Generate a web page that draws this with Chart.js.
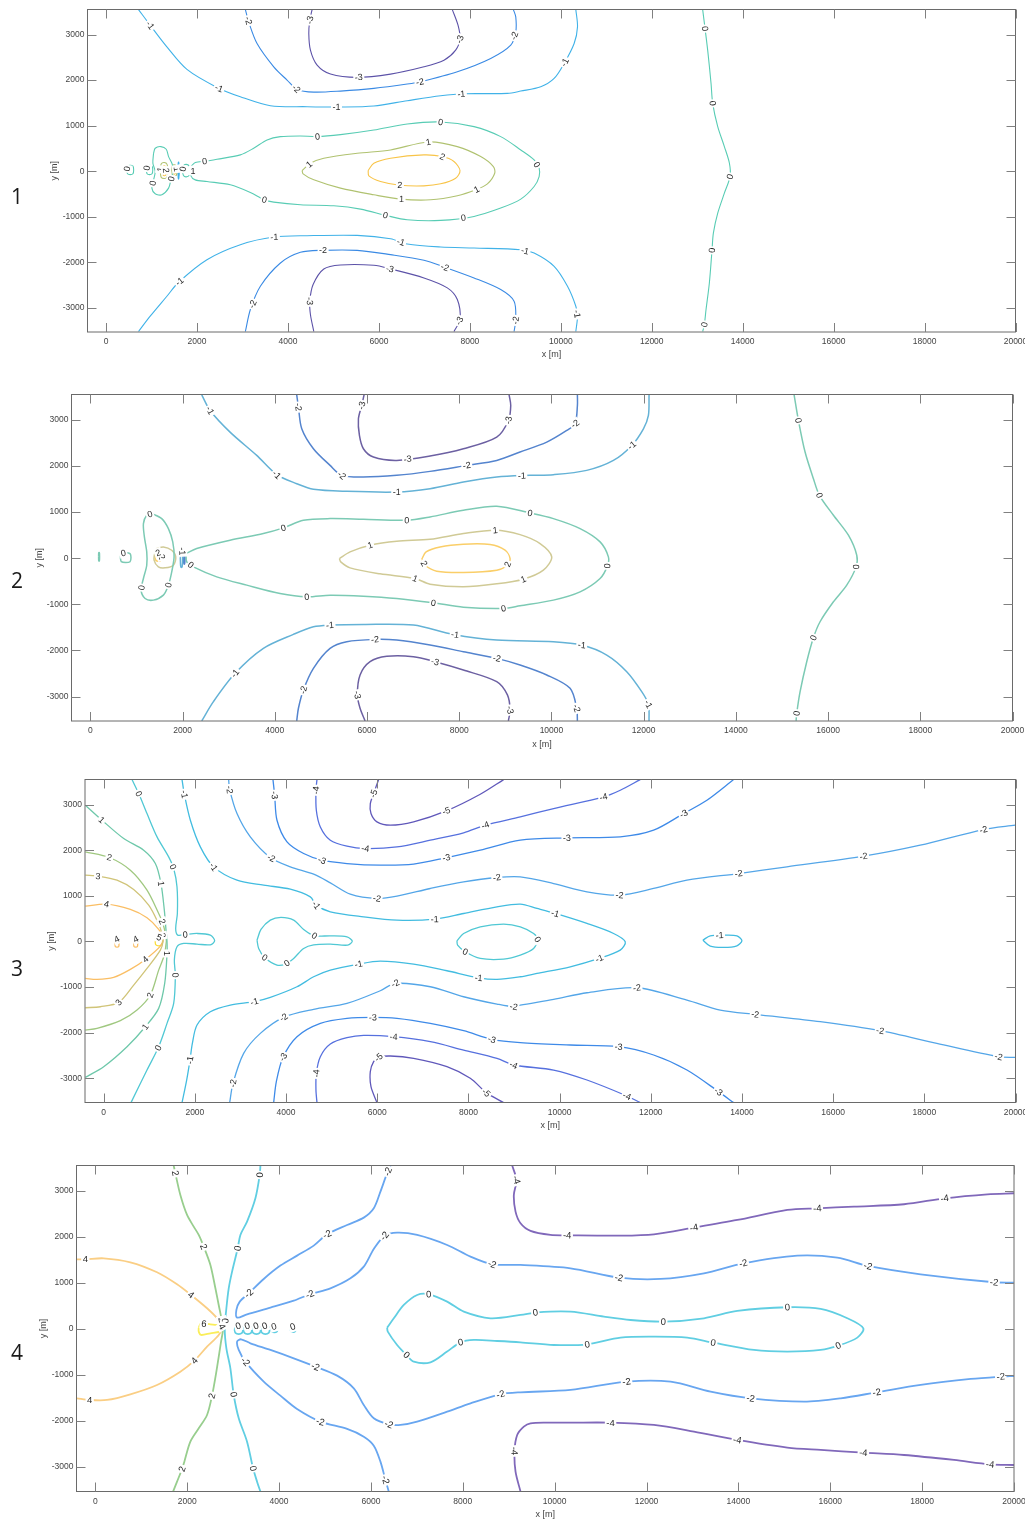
<!DOCTYPE html>
<html>
<head>
<meta charset="utf-8">
<title>Contour panels</title>
<script src="https://cdn.jsdelivr.net/npm/chart.js@4.4.1/dist/chart.umd.min.js"></script>
<style>
  html, body { margin:0; padding:0; background:#ffffff; }
  body { width:1025px; height:1521px; position:relative; overflow:hidden; }
  canvas { position:absolute; left:0; display:block; }
  .num { position:absolute; left:11px; font-family:"Open Sans","Noto Sans",sans-serif; font-size:21px; line-height:21px; color:#1a1a1a; }
</style>
</head>
<body>
<canvas id="c1" width="1025" height="365" style="top:0px"></canvas>
<canvas id="c2" width="1025" height="370" style="top:385px"></canvas>
<canvas id="c3" width="1025" height="370" style="top:770px"></canvas>
<canvas id="c4" width="1025" height="366" style="top:1155px"></canvas>
<div class="num" style="top:186px">1</div>
<div class="num" style="top:570px">2</div>
<div class="num" style="top:958px">3</div>
<div class="num" style="top:1342px">4</div>
<script>
// ---------- axes ----------
const xTicks = [0,2000,4000,6000,8000,10000,12000,14000,16000,18000,20000];
const yTicks = [-3000,-2000,-1000,0,1000,2000,3000];
const xRange = [-410, 20000];
const yRange = [-3530, 3550];

// ---------- PANEL 1 contour lines [x m, y m] ----------
const p1_m3_top = [[4530,3548],[4479,3314],[4457,3022],[4493,2657],[4640,2329],[4934,2132],[5521,2059],[6255,2132],[6990,2292],[7430,2438],[7687,2657],[7783,2913],[7739,3205],[7614,3548]];
const p1_m2_top = [[3062,3548],[3135,3278],[3319,2803],[3686,2292],[3979,2000],[4200,1796],[4567,1737],[5154,1759],[5888,1818],[6622,1913],[6916,1964],[7724,2183],[8458,2475],[8899,2767],[9009,3059],[9009,3387],[8957,3548]];
const p1_m1_top = [[712,3548],[969,3205],[1336,2730],[1777,2234],[2438,1840],[2951,1635],[3612,1438],[4420,1416],[5154,1409],[5888,1431],[6622,1548],[7357,1657],[7871,1701],[8825,1708],[9119,1759],[9559,1854],[9853,2037],[10073,2365],[10293,2803],[10367,3168],[10330,3548]];
const p1_0_main = [[1865,102],[1960,190],[2181,219],[2438,263],[2951,358],[3245,504],[3539,686],[3833,759],[4273,774],[4640,759],[5154,803],[5888,905],[6622,1037],[7357,1080],[8091,978],[8678,759],[9119,467],[9413,248],[9523,66],[9523,-117],[9413,-336],[9119,-613],[8678,-810],[8091,-993],[7357,-1080],[6622,-1066],[6182,-978],[5595,-832],[5007,-759],[4273,-737],[3686,-679],[3480,-628],[3172,-467],[2731,-299],[2217,-226],[1960,-190],[1865,-102],[1865,102]];
const p1_1 = [[4310,15],[4493,175],[4787,285],[5521,394],[6255,467],[7085,642],[7724,540],[8238,321],[8517,102],[8546,-44],[8385,-277],[8128,-409],[7724,-540],[7136,-628],[6476,-613],[5888,-518],[5154,-372],[4567,-190],[4332,-58],[4310,15]];
const p1_2 = [[5763,15],[5888,175],[6255,285],[6990,358],[7393,321],[7650,212],[7783,15],[7687,-153],[7357,-277],[6990,-321],[6461,-307],[6035,-226],[5778,-102],[5763,15]];
const p1_m1_bot = [[712,-3519],[969,-3183],[1336,-2745],[1593,-2438],[2217,-1942],[2951,-1613],[3686,-1445],[4420,-1416],[5521,-1409],[6255,-1482],[6622,-1599],[7357,-1664],[8091,-1686],[9119,-1723],[9413,-1796],[9853,-2088],[10147,-2526],[10330,-2964],[10367,-3183],[10330,-3519]];
const p1_m2_bot = [[3062,-3519],[3172,-3037],[3392,-2526],[3833,-2015],[4273,-1781],[4750,-1737],[5521,-1737],[6255,-1832],[6990,-1956],[7430,-2102],[8091,-2343],[8678,-2599],[8972,-2854],[9009,-3256],[8972,-3519]];
const p1_m3_bot = [[4567,-3519],[4493,-3146],[4479,-2854],[4552,-2489],[4787,-2146],[5154,-2059],[5888,-2066],[6255,-2146],[6990,-2343],[7504,-2562],[7724,-2818],[7783,-3256],[7650,-3519]];
const p1_0_right = [[13120,3548],[13172,3132],[13230,2657],[13304,1927],[13340,1489],[13451,978],[13597,540],[13708,175],[13722,-117],[13597,-482],[13451,-920],[13355,-1358],[13326,-1723],[13267,-2453],[13194,-3037],[13157,-3365],[13120,-3519]];
const p1_0_s1 = [[455,29],[470,110],[529,130],[590,110],[605,29],[590,-55],[529,-75],[470,-55],[455,29]];
const p1_0_s2 = [[885,29],[900,110],[954,130],[1010,110],[1025,29],[1010,-55],[954,-75],[900,-55],[885,29]];
const p1_0_lobe = [[1043,394],[1079,504],[1204,540],[1322,482],[1373,321],[1446,175],[1483,15],[1424,-190],[1373,-372],[1226,-518],[1079,-496],[1006,-372],[1043,-190],[1079,-7],[1028,175],[1043,394]];
const p1_0_s3 = [[1680,15],[1700,120],[1760,150],[1830,110],[1850,15],[1830,-90],[1760,-125],[1700,-95],[1680,15]];
const p1_1_s1 = [[1190,15],[1210,160],[1280,190],[1340,150],[1360,15],[1340,-130],[1280,-160],[1210,-130],[1190,15]];
const p1_2_s1 = [[1235,15],[1250,100],[1280,120],[1310,95],[1320,15],[1310,-80],[1280,-100],[1250,-80],[1235,15]];
const p1_1_s2 = [[1440,15],[1455,120],[1500,140],[1545,110],[1560,15],[1545,-90],[1500,-115],[1455,-90],[1440,15]];
const p1_2_s2 = [[1470,15],[1480,70],[1500,85],[1520,65],[1530,15],[1520,-50],[1500,-65],[1480,-50],[1470,15]];
const p1_m1_s = [[1580,15],[1585,180],[1593,200],[1600,180],[1606,15],[1600,-150],[1593,-175],[1585,-150],[1580,15]];
const p1_m2_s = [[1588,15],[1590,110],[1594,120],[1598,110],[1600,15],[1598,-80],[1594,-95],[1590,-80],[1588,15]];
const p1Lines = [[-3,p1_m3_top],[-3,p1_m3_bot],[-2,p1_m2_top],[-2,p1_m2_bot],[-1,p1_m1_top],[-1,p1_m1_bot],[0,p1_0_main],[0,p1_0_right],[0,p1_0_lobe],[0,p1_0_s1],[0,p1_0_s2],[0,p1_0_s3],[1,p1_1],[1,p1_1_s1],[1,p1_1_s2],[2,p1_2],[2,p1_2_s1],[2,p1_2_s2],[-1,p1_m1_s],[-2,p1_m2_s]];
const p1Labels = [
  [-1,969,3205],[-1,2489,1832],[-1,5066,1416],[-1,7812,1701],[-1,10095,2387],
  [-2,3113,3300],[-2,4170,1796],[-2,6901,1964],[-2,9045,2949],
  [-3,4508,3314],[-3,5558,2051],[-3,7797,2891],
  [0,2166,219],[0,4647,759],[0,7357,1073],[0,9500,161],[0,7856,-1022],[0,6145,-964],[0,3480,-628],
  [1,4457,161],[1,7085,650],[1,8150,-402],[1,6498,-613],
  [2,7393,307],[2,6461,-307],
  [-1,1615,-2424],[-1,3700,-1431],[-1,6476,-1577],[-1,9207,-1767],[-1,10367,-3132],
  [-2,3245,-2927],[-2,4772,-1737],[-2,7452,-2102],[-2,9016,-3278],
  [-3,4479,-2854],[-3,6241,-2146],[-3,7738,-3270],
  [0,13172,3132],[0,13333,1489],[0,13715,-117],[0,13326,-1737],[0,13150,-3365],
  [0,514,44],[0,932,66],[0,1028,-263],[0,1468,-175],
  [1,1160,44],[2,1300,15],[1,1520,44],[0,1700,44],[1,1910,15]
];

// ---------- PANEL 2 ----------
const p2_m1_top = [[2415,3543],[2596,3203],[3029,2734],[3608,2229],[4042,1811],[4475,1616],[4837,1494],[5560,1450],[6644,1436],[7367,1508],[8090,1652],[8813,1760],[9536,1797],[10042,1811],[10765,1905],[11344,2121],[11742,2446],[11995,2807],[12103,3095],[12117,3543]];
const p2_m2_top = [[4475,3543],[4512,3276],[4584,2807],[4837,2374],[5198,2013],[5451,1797],[5921,1760],[6644,1797],[7367,1883],[8163,2013],[8813,2121],[9319,2302],[9898,2518],[10332,2771],[10512,2915],[10563,3312],[10563,3543]];
const p2_m3_top = [[5936,3543],[5885,3312],[5813,3023],[5835,2662],[5921,2374],[6138,2193],[6644,2121],[7367,2215],[8090,2374],[8813,2626],[9066,2987],[9117,3312],[9081,3543]];
const p2_0_main = [[2075,101],[2306,209],[3029,390],[3752,534],[4186,657],[4620,823],[5198,859],[5921,844],[6861,823],[7367,895],[8090,1039],[8813,1126],[9536,981],[10042,859],[10621,642],[11055,354],[11235,29],[11214,-166],[11055,-440],[10621,-729],[10042,-909],[9319,-1032],[8958,-1089],[8090,-1061],[7440,-967],[6644,-873],[5921,-823],[5198,-801],[4692,-837],[4114,-765],[3391,-584],[2740,-404],[2234,-188],[2090,-79],[2075,101]];
const p2_1 = [[5401,-7],[5632,137],[6066,281],[6644,368],[7367,411],[8090,534],[8777,606],[9319,512],[9753,317],[10006,29],[9825,-260],[9392,-455],[8813,-556],[8090,-620],[7367,-563],[7042,-440],[6283,-339],[5632,-209],[5430,-79],[5401,-7]];
const p2_2 = [[7187,-22],[7281,137],[7584,245],[8090,303],[8669,296],[8994,173],[9103,-7],[9045,-152],[8813,-260],[8090,-310],[7512,-281],[7259,-152],[7187,-22]];
const p2_m1_bot = [[2415,-3528],[2668,-3110],[3138,-2496],[3752,-1955],[4403,-1652],[4837,-1486],[5198,-1450],[5921,-1436],[7006,-1450],[7873,-1652],[8813,-1775],[10042,-1811],[10657,-1883],[11199,-2100],[11633,-2460],[11958,-2893],[12103,-3167],[12117,-3528]];
const p2_m2_bot = [[4475,-3528],[4512,-3254],[4620,-2857],[4837,-2388],[5198,-1955],[5560,-1811],[6174,-1760],[6644,-1775],[7367,-1883],[8090,-2027],[8813,-2172],[9319,-2316],[9898,-2532],[10404,-2821],[10548,-3254],[10563,-3528]];
const p2_m3_bot = [[5958,-3528],[5849,-3254],[5791,-2965],[5849,-2532],[6066,-2244],[6428,-2128],[7006,-2136],[7476,-2244],[8090,-2424],[8813,-2677],[9045,-2965],[9103,-3290],[9066,-3528]];
const p2_0_right = [[15263,3543],[15357,2987],[15501,2302],[15682,1724],[15812,1364],[16116,931],[16441,498],[16622,65],[16607,-188],[16405,-584],[16116,-945],[15826,-1378],[15682,-1724],[15537,-2244],[15393,-2893],[15320,-3362],[15306,-3528]];
const p2_0_lobe = [[1330,967],[1547,859],[1692,642],[1786,354],[1815,29],[1764,-296],[1692,-584],[1583,-801],[1366,-909],[1186,-873],[1099,-693],[1150,-440],[1222,-152],[1222,137],[1171,462],[1150,750],[1222,931],[1330,967]];
const p2_0_s1 = [[650,14],[670,100],[766,120],[860,100],[880,14],[860,-75],[766,-95],[670,-75],[650,14]];
const p2_0_s2 = [[178,29],[180,110],[188,125],[196,110],[198,29],[196,-50],[188,-65],[180,-50],[178,29]];
const p2_1_s = [[1439,209],[1583,245],[1764,173],[1851,29],[1800,-152],[1620,-209],[1475,-188],[1381,-43],[1403,137],[1439,209]];
const p2_2_s = [[1400,29],[1420,100],[1475,120],[1530,100],[1550,29],[1530,-45],[1475,-65],[1420,-45],[1400,29]];
const p2_m1_s = [[1950,7],[1958,180],[1975,215],[1992,180],[2000,7],[1992,-170],[1975,-200],[1958,-170],[1950,7]];
const p2_m2_s = [[2020,7],[2026,120],[2036,140],[2046,120],[2052,7],[2046,-110],[2036,-130],[2026,-110],[2020,7]];
const p2Lines = [[-3,p2_m3_top],[-3,p2_m3_bot],[-2,p2_m2_top],[-2,p2_m2_bot],[-1,p2_m1_top],[-1,p2_m1_bot],[0,p2_0_main],[0,p2_0_right],[0,p2_0_lobe],[0,p2_0_s1],[0,p2_0_s2],[1,p2_1],[1,p2_1_s],[2,p2_2],[2,p2_2_s],[-1,p2_m1_s],[-2,p2_m2_s]];
const p2Labels = [
  [-1,2596,3203],[-1,4042,1811],[-1,6644,1436],[-1,9356,1797],[-1,11742,2446],
  [-2,4512,3276],[-2,5451,1797],[-2,8163,2013],[-2,10512,2915],
  [-3,5885,3312],[-3,6883,2121],[-3,9103,2987],
  [0,4186,657],[0,6861,823],[0,9536,981],[0,11214,-166],[0,8958,-1089],[0,7440,-967],[0,4692,-837],[0,2176,-152],
  [1,6066,281],[1,8777,606],[1,9392,-455],[1,7042,-440],
  [2,7237,-115],[2,9045,-130],
  [-1,3138,-2496],[-1,5198,-1465],[-1,7910,-1667],[-1,10657,-1883],[-1,12103,-3167],
  [-2,4620,-2857],[-2,6174,-1760],[-2,8813,-2172],[-2,10548,-3254],
  [-3,5791,-2965],[-3,7476,-2244],[-3,9103,-3290],
  [0,15357,2987],[0,15812,1364],[0,16607,-188],[0,15682,-1724],[0,15320,-3362],
  [0,1309,895],[0,1135,-642],[0,1692,-584],[0,716,101],
  [2,1764,14],[2,1475,101],[-1,1975,150]
];

// ---------- PANEL 3 ----------
const p3_0_left = [[621,3548],[768,3241],[950,2803],[1170,2292],[1425,1854],[1535,1599],[1608,1197],[1616,613],[1579,285],[1623,139],[1791,153],[2047,175],[2339,139],[2434,15],[2339,-73],[2047,-58],[1754,-44],[1608,-117],[1550,-409],[1572,-737],[1535,-1358],[1389,-1796],[1206,-2307],[950,-2818],[599,-3533]];
const p3_1 = [[-402,2986],[-37,2657],[439,2256],[877,2000],[1133,1708],[1257,1270],[1330,686],[1367,248],[1389,0],[1389,-277],[1338,-920],[1206,-1467],[914,-1869],[512,-2307],[0,-2745],[-402,-2978]];
const p3_2 = [[-402,1964],[124,1840],[585,1562],[950,1124],[1206,613],[1294,409],[1352,175],[1374,0],[1316,-336],[1206,-628],[1023,-1175],[731,-1504],[366,-1737],[-146,-1905],[-402,-1942]];
const p3_3 = [[-402,1453],[-110,1431],[292,1343],[658,1139],[987,796],[1184,431],[1279,175],[1301,0],[1243,-190],[950,-591],[658,-956],[329,-1336],[-73,-1431],[-402,-1453]];
const p3_4 = [[-402,774],[58,818],[585,701],[950,518],[1206,263],[1301,66],[1243,-102],[914,-394],[585,-613],[219,-788],[-146,-832],[-402,-810]];
const p3_m1 = [[1718,3548],[1769,3227],[1901,2657],[2120,2073],[2412,1635],[2924,1343],[3509,1234],[4094,1146],[4532,978],[4664,796],[4971,650],[5702,540],[6433,467],[7259,489],[7895,613],[8626,759],[9138,818],[9503,723],[9905,613],[10600,394],[11184,175],[11440,-7],[11330,-190],[10870,-372],[10234,-555],[9503,-701],[9138,-774],[8626,-832],[8224,-796],[7529,-642],[6798,-496],[6067,-431],[5592,-496],[4971,-628],[4605,-774],[4240,-993],[3655,-1226],[3304,-1321],[2778,-1394],[2339,-1540],[2047,-1832],[1945,-2234],[1893,-2599],[1820,-3037],[1718,-3533]];
const p3_m1_loop = [[13143,29],[13304,124],[13597,139],[13889,124],[13999,15],[13889,-95],[13597,-131],[13304,-102],[13143,29]];
const p3_0_loop1 = [[3363,29],[3450,263],[3655,467],[3889,526],[4167,467],[4386,263],[4620,124],[4971,124],[5336,102],[5453,7],[5351,-80],[4971,-58],[4605,-73],[4386,-153],[4167,-372],[3984,-496],[3801,-518],[3531,-350],[3399,-153],[3363,29]];
const p3_0_loop2 = [[7749,15],[7895,175],[8260,321],[8772,380],[9138,321],[9430,175],[9518,44],[9430,-153],[9138,-299],[8772,-387],[8260,-372],[7931,-226],[7763,-80],[7749,15]];
const p3_m2_top = [[2741,3548],[2763,3329],[2924,2803],[3216,2292],[3655,1840],[4094,1635],[4605,1475],[4971,1285],[5409,1037],[5994,942],[6433,993],[7164,1161],[7895,1307],[8626,1402],[9138,1416],[9869,1270],[10600,1088],[11316,1015],[12062,1161],[12793,1343],[13926,1489],[14986,1635],[16667,1869],[17910,2110],[19298,2453],[19993,2548]];
const p3_m2_bot = [[2763,-3533],[2836,-3110],[3070,-2453],[3436,-2015],[3947,-1664],[4605,-1489],[5336,-1358],[6067,-1080],[6396,-920],[7164,-993],[7895,-1212],[8626,-1372],[8991,-1431],[9138,-1394],[9869,-1270],[10600,-1124],[11696,-1015],[12793,-1285],[13524,-1504],[14291,-1599],[15717,-1759],[17032,-1956],[18275,-2234],[19627,-2526],[19993,-2540]];
const p3_m3_top = [[3713,3548],[3750,3205],[3801,2657],[4021,2183],[4386,1927],[4788,1781],[5336,1708],[6067,1672],[6798,1694],[7529,1840],[8260,2000],[9138,2219],[10161,2270],[11331,2292],[12062,2438],[12719,2803],[13231,3095],[13816,3548]];
const p3_m3_bot = [[3728,-3533],[3787,-3073],[3933,-2540],[4240,-2088],[4752,-1796],[5336,-1686],[5906,-1664],[6433,-1686],[7164,-1796],[7895,-1956],[8516,-2146],[9138,-2219],[10234,-2270],[11294,-2307],[12062,-2489],[12793,-2818],[13487,-3292],[13816,-3533]];
const p3_m4_top = [[4678,3548],[4656,3314],[4664,2876],[4752,2511],[4971,2219],[5336,2088],[5738,2037],[6433,2073],[7164,2219],[7895,2380],[8370,2548],[9138,2730],[9869,2913],[10965,3168],[11331,3314],[11769,3548]];
const p3_m4_bot = [[4678,-3533],[4656,-3256],[4664,-2891],[4752,-2526],[4971,-2248],[5336,-2110],[5702,-2059],[6360,-2088],[7164,-2197],[7895,-2380],[8626,-2562],[8991,-2708],[9869,-2818],[10600,-3037],[11477,-3387],[11769,-3533]];
const p3_m5_top = [[6031,3548],[5921,3241],[5848,3022],[5863,2803],[5994,2621],[6287,2548],[6798,2621],[7515,2862],[8260,3227],[8772,3548]];
const p3_m5_bot = [[5994,-3533],[5863,-3183],[5848,-2854],[5921,-2635],[6031,-2540],[6287,-2511],[6798,-2562],[7529,-2745],[8041,-3000],[8392,-3314],[8772,-3533]];
const p3_4_s1 = [[250,-44],[255,30],[292,50],[330,30],[335,-44],[330,-110],[292,-125],[255,-110],[250,-44]];
const p3_4_s2 = [[660,-44],[665,30],[702,50],[740,30],[745,-44],[740,-110],[702,-125],[665,-110],[660,-44]];
const p3_5_s = [[1130,0],[1140,70],[1206,95],[1270,70],[1285,0],[1270,-70],[1206,-95],[1140,-70],[1130,0]];
const p3Lines = [[-5,p3_m5_top],[-5,p3_m5_bot],[-4,p3_m4_top],[-4,p3_m4_bot],[-3,p3_m3_top],[-3,p3_m3_bot],[-2,p3_m2_top],[-2,p3_m2_bot],[-1,p3_m1],[-1,p3_m1_loop],[0,p3_0_left],[0,p3_0_loop1],[0,p3_0_loop2],[1,p3_1],[2,p3_2],[3,p3_3],[4,p3_4],[4,p3_4_s1],[4,p3_4_s2],[5,p3_5_s]];
const p3Labels = [
  [0,768,3241],[0,1520,1635],[0,1791,153],[0,1572,-737],[0,1170,-2321],
  [1,-51,2657],[1,1265,1270],[1,1389,-263],[1,914,-1869],
  [2,124,1840],[2,1279,431],[2,1023,-1175],
  [3,-124,1431],[3,329,-1336],[3,1316,139],
  [4,58,796],[4,914,-394],[4,278,66],[4,694,66],
  [5,1206,66],
  [-1,1769,3227],[-1,2412,1635],[-1,4664,796],[-1,7259,489],[-1,9905,613],[-1,10870,-372],[-1,8224,-796],[-1,5592,-504],[-1,3304,-1321],[-1,1893,-2599],
  [-1,13509,117],
  [0,4620,102],[0,3531,-350],[0,4021,-482],
  [0,9518,44],[0,7931,-226],
  [-2,2763,3329],[-2,3670,1818],[-2,5994,942],[-2,8626,1380],[-2,11316,1015],[-2,13926,1489],[-2,16667,1869],[-2,19298,2453],
  [-2,2836,-3110],[-2,3947,-1664],[-2,6396,-920],[-2,8991,-1431],[-2,11696,-1015],[-2,14291,-1599],[-2,17032,-1956],[-2,19627,-2526],
  [-3,3750,3205],[-3,4788,1781],[-3,7515,1840],[-3,10161,2270],[-3,12719,2803],
  [-3,3947,-2540],[-3,5906,-1664],[-3,8516,-2146],[-3,11294,-2307],[-3,13487,-3292],
  [-4,4656,3314],[-4,5738,2037],[-4,8370,2548],[-4,10965,3168],
  [-4,4664,-2891],[-4,6360,-2088],[-4,8991,-2708],[-4,11477,-3387],
  [-5,5921,3241],[-5,7515,2862],
  [-5,6031,-2540],[-5,8392,-3314]
];

// ---------- PANEL 4 ----------
const p4_2 = [[1706,3548],[1742,3381],[1851,2910],[1997,2476],[2142,2223],[2251,2042],[2360,1788],[2505,1390],[2614,883],[2686,521],[2759,159],[2781,0],[2737,-275],[2635,-927],[2541,-1448],[2432,-1868],[2251,-2158],[2069,-2447],[1938,-2882],[1888,-3041],[1779,-3316],[1692,-3533]];
const p4_0_left = [[3594,3548],[3579,3345],[3485,2838],[3303,2331],[3158,2042],[3100,1752],[2977,1245],[2904,883],[2853,449],[2817,0],[2853,-420],[2940,-854],[3013,-1434],[3122,-1940],[3303,-2447],[3434,-3026],[3521,-3316],[3594,-3533]];
const p4_4 = [[-399,1513],[-218,1513],[182,1535],[762,1448],[1343,1231],[1779,970],[2084,738],[2432,449],[2650,232],[2759,51],[2686,-130],[2432,-384],[2156,-688],[1851,-927],[1343,-1216],[762,-1419],[254,-1542],[-123,-1542],[-399,-1506]];
const p4_6 = [[2251,29],[2301,123],[2505,101],[2708,72],[2781,14],[2708,-58],[2505,-94],[2301,-130],[2251,-58],[2251,29]];
const p4_m2_top = [[6425,3548],[6338,3345],[6207,2983],[6062,2621],[5844,2418],[5481,2259],[5046,2056],[4755,1810],[4392,1593],[4029,1376],[3666,1086],[3340,775],[3144,594],[3071,413],[3086,246],[3303,319],[3812,463],[4320,615],[4668,753],[5118,883],[5554,1100],[5844,1354],[6062,1738],[6294,2020],[6570,2092],[7006,2042],[7659,1824],[8168,1571],[8639,1405],[9256,1390],[10346,1318],[11398,1115],[12306,1086],[13250,1209],[14106,1426],[15283,1593],[16154,1549],[16821,1368],[17968,1187],[19566,1014],[19996,1006]];
const p4_m2_bot = [[6389,-3533],[6316,-3280],[6207,-2882],[6062,-2534],[5844,-2339],[5481,-2172],[4901,-2013],[4392,-1738],[4029,-1448],[3666,-1144],[3267,-710],[3122,-456],[3086,-275],[3173,-224],[3376,-311],[3812,-456],[4320,-637],[4792,-818],[5264,-1014],[5627,-1289],[5844,-1651],[6062,-1940],[6389,-2071],[6643,-2085],[7006,-2013],[7659,-1796],[8168,-1615],[8821,-1419],[9256,-1376],[10346,-1325],[11565,-1144],[12524,-1144],[13395,-1361],[14266,-1506],[15428,-1578],[16226,-1506],[17010,-1376],[17968,-1216],[19058,-1086],[19711,-1035],[20001,-1021]];
const p4_0_loop = [[6353,29],[6498,232],[6716,521],[7006,738],[7260,753],[7659,594],[8022,376],[8603,232],[9256,304],[9620,362],[10346,376],[11072,268],[11652,195],[12364,159],[13250,232],[13976,391],[15065,471],[15791,434],[16372,232],[16720,14],[16589,-188],[16175,-362],[15791,-456],[15065,-492],[14339,-456],[13453,-297],[12887,-188],[12161,-167],[11434,-188],[10709,-333],[9983,-348],[9256,-290],[8748,-261],[8240,-239],[7950,-290],[7659,-492],[7296,-724],[6933,-710],[6774,-565],[6570,-348],[6367,-58],[6353,29]];
const p4_m4_top = [[9075,3548],[9169,3236],[9111,2910],[9148,2548],[9257,2295],[9474,2129],[9910,2042],[10273,2034],[11435,2027],[12161,2056],[13032,2201],[13976,2367],[15065,2585],[15718,2621],[16517,2657],[17606,2708],[18491,2838],[19421,2925],[20001,2947]];
const p4_m4_bot = [[9257,-3533],[9148,-3099],[9126,-2650],[9184,-2302],[9329,-2121],[9474,-2049],[9837,-2034],[10346,-2034],[11217,-2034],[12161,-2085],[13032,-2230],[13976,-2411],[15065,-2577],[15791,-2628],[16720,-2686],[17606,-2737],[18695,-2845],[19479,-2939],[20001,-2954]];
const p4_0_s1 = [[3032,-20],[3050,45],[3122,70],[3194,45],[3212,-20],[3194,-85],[3122,-110],[3050,-85],[3032,-20]];
const p4_0_s2 = [[3228,-20],[3246,45],[3318,70],[3390,45],[3408,-20],[3390,-85],[3318,-110],[3246,-85],[3228,-20]];
const p4_0_s3 = [[3417,-20],[3435,45],[3507,70],[3579,45],[3597,-20],[3579,-85],[3507,-110],[3435,-85],[3417,-20]];
const p4_0_s4 = [[3613,-20],[3631,45],[3703,70],[3775,45],[3793,-20],[3775,-85],[3703,-110],[3631,-85],[3613,-20]];
const p4_0_s5 = [[3834,-10],[3847,40],[3899,55],[3951,40],[3964,-10],[3951,-60],[3899,-75],[3847,-60],[3834,-10]];
const p4_0_s6 = [[4250,-10],[4261,35],[4305,50],[4349,35],[4360,-10],[4349,-55],[4305,-70],[4261,-55],[4250,-10]];
const p4Lines = [[-4,p4_m4_top],[-4,p4_m4_bot],[-2,p4_m2_top],[-2,p4_m2_bot],[0,p4_0_left],[0,p4_0_loop],[0,p4_0_s1],[0,p4_0_s2],[0,p4_0_s3],[0,p4_0_s4],[0,p4_0_s5],[0,p4_0_s6],[2,p4_2],[4,p4_4],[6,p4_6]];
const p4Labels = [
  [2,1742,3381],[2,2360,1788],[2,2526,-1448],[2,1888,-3041],[2,2686,181],
  [0,3579,3345],[0,3100,1752],[0,3027,-1419],[0,3434,-3026],[0,2853,174],
  [4,-218,1513],[4,2084,738],[4,2156,-688],[4,-123,-1542],[4,2795,51],
  [6,2360,87],
  [-2,6374,3417],[-2,5046,2056],[-2,3340,775],[-2,4668,753],[-2,6294,2020],[-2,8639,1405],[-2,11398,1115],[-2,14106,1426],[-2,16821,1368],[-2,19566,1014],
  [-2,6316,-3280],[-2,4901,-2013],[-2,3267,-710],[-2,4792,-818],[-2,6389,-2071],[-2,8821,-1419],[-2,11565,-1144],[-2,14266,-1506],[-2,17010,-1376],[-2,19711,-1035],
  [0,7260,753],[0,7950,-290],[0,6774,-565],[0,9583,319],[0,12364,159],[0,15065,471],[0,16175,-362],[0,13453,-297],[0,10709,-333],
  [-4,9169,3236],[-4,10273,2034],[-4,13032,2201],[-4,15718,2621],[-4,18491,2838],
  [-4,9126,-2650],[-4,11217,-2034],[-4,13976,-2411],[-4,16720,-2686],[-4,19479,-2939],
  [0,3122,36],[0,3318,36],[0,3507,36],[0,3703,29],[0,3899,14],[0,4305,29]
];

// ---------- styles ----------
const p1Colors = {'-3':'rgb(92,82,168)','-2':'rgb(58,138,228)','-1':'rgb(64,178,232)','0':'rgb(88,204,180)','1':'rgb(176,194,112)','2':'rgb(248,196,72)'};
const p2Colors = {'-3':'rgb(108,96,162)','-2':'rgb(84,132,206)','-1':'rgb(100,178,214)','0':'rgb(124,202,180)','1':'rgb(208,202,150)','2':'rgb(250,206,104)'};
const p3Colors = {'-5':'rgb(96,88,186)','-4':'rgb(86,112,222)','-3':'rgb(62,138,232)','-2':'rgb(84,166,232)','-1':'rgb(66,188,224)','0':'rgb(80,200,212)','1':'rgb(110,200,170)','2':'rgb(160,200,128)','3':'rgb(208,196,120)','4':'rgb(250,190,100)','5':'rgb(250,222,60)'};
const p4Colors = {'-4':'rgb(128,104,186)','-2':'rgb(104,166,240)','0':'rgb(96,206,226)','2':'rgb(152,206,142)','4':'rgb(250,206,132)','6':'rgb(250,238,90)'};

const FONT = '"Liberation Sans", Arial, Helvetica, sans-serif';

function segNearest(px, py, ax, ay, bx, by) {
  const dx = bx - ax, dy = by - ay, L = dx*dx + dy*dy;
  let t = L ? ((px-ax)*dx + (py-ay)*dy) / L : 0;
  t = Math.max(0, Math.min(1, t));
  const qx = ax + t*dx, qy = ay + t*dy;
  return [Math.hypot(px-qx, py-qy), qx, qy];
}

function labelPlugin(labels, fontSize) {
  return {
    id: 'clabels',
    afterDatasetsDraw(chart) {
      const ctx = chart.ctx, xs = chart.scales.x, ys = chart.scales.y;
      ctx.save();
      ctx.font = fontSize + 'px ' + FONT;
      ctx.textAlign = 'center';
      ctx.textBaseline = 'middle';
      for (const [lev, dx, dy] of labels) {
        let px = xs.getPixelForValue(dx), py = ys.getPixelForValue(dy);
        let best = 1e9, ang = 0, bx = px, by = py;
        chart.data.datasets.forEach((ds, i) => {
          if (ds.level !== lev) return;
          const pts = chart.getDatasetMeta(i).data;
          for (let k = 0; k < pts.length - 1; k++) {
            const r = segNearest(px, py, pts[k].x, pts[k].y, pts[k+1].x, pts[k+1].y);
            if (r[0] < best) { best = r[0]; bx = r[1]; by = r[2]; ang = Math.atan2(pts[k+1].y - pts[k].y, pts[k+1].x - pts[k].x); }
          }
        });
        if (best < 12) { px = bx; py = by; } else { ang = 0; }
        if (ang > Math.PI/2) ang -= Math.PI;
        if (ang < -Math.PI/2) ang += Math.PI;
        const t = String(lev);
        const w = ctx.measureText(t).width + 3;
        ctx.save();
        ctx.translate(px, py);
        ctx.rotate(ang);
        ctx.fillStyle = '#ffffff';
        ctx.fillRect(-w/2, -fontSize*0.55, w, fontSize*1.1);
        ctx.fillStyle = '#2a2a2a';
        ctx.fillText(t, 0, 0.5);
        ctx.restore();
      }
      ctx.restore();
    }
  };
}

const framePlugin = {
  id: 'frame',
  afterDraw(chart) {
    const ctx = chart.ctx, a = chart.chartArea, xs = chart.scales.x, ys = chart.scales.y;
    ctx.save();
    ctx.strokeStyle = '#6a6a6a';
    ctx.lineWidth = 1;
    ctx.strokeRect(a.left, a.top, a.right - a.left, a.bottom - a.top);
    ctx.beginPath();
    ctx.strokeStyle = '#808080';
    for (const t of xs.ticks) {
      const p = Math.round(xs.getPixelForValue(t.value)) + 0.5;
      ctx.moveTo(p, a.bottom); ctx.lineTo(p, a.bottom - 9);
      ctx.moveTo(p, a.top); ctx.lineTo(p, a.top + 9);
    }
    for (const t of ys.ticks) {
      const p = Math.round(ys.getPixelForValue(t.value)) + 0.5;
      ctx.moveTo(a.left, p); ctx.lineTo(a.left + 9, p);
      ctx.moveTo(a.right, p); ctx.lineTo(a.right - 9, p);
    }
    ctx.stroke();
    ctx.restore();
  }
};

function makePanel(id, cfg, lines, labels, colors, lw, lfs) {
  const half = 5.4;
  const W = cfg.left - (cfg.yTitleX - half);
  const H = (cfg.xTitleY + half) - cfg.bottom;
  const pad = {
    left: cfg.left - W,
    right: 1025 - cfg.right,
    top: cfg.top - cfg.top0,
    bottom: cfg.h - (cfg.bottom - cfg.top0) - H
  };
  const tickFont = { family: FONT, size: 8.5 };
  new Chart(document.getElementById(id), {
    type: 'scatter',
    data: {
      datasets: lines.map(([lev, pts]) => ({
        level: lev,
        data: pts.map(([x, y]) => ({ x, y })),
        showLine: true,
        borderColor: colors[lev],
        backgroundColor: colors[lev],
        borderWidth: lw,
        pointRadius: 0,
        pointHoverRadius: 0,
        pointHitRadius: 0,
        tension: 0.3,
        fill: false
      }))
    },
    options: {
      responsive: false,
      animation: false,
      events: [],
      layout: { padding: pad },
      plugins: { legend: { display: false }, tooltip: { enabled: false } },
      scales: {
        x: {
          type: 'linear', min: xRange[0], max: xRange[1],
          afterBuildTicks: s => { s.ticks = xTicks.map(v => ({ value: v })); },
          afterFit: s => { s.height = H; s.paddingLeft = 0; s.paddingRight = 0; },
          grid: { display: false, drawTicks: false },
          border: { display: false },
          ticks: { padding: 5, maxRotation: 0, minRotation: 0, autoSkip: false, color: '#444', font: tickFont, callback: v => String(v) },
          title: { display: true, text: 'x [m]', color: '#444', font: { family: FONT, size: 9 }, padding: 0 }
        },
        y: {
          type: 'linear', min: yRange[0], max: yRange[1],
          afterBuildTicks: s => { s.ticks = yTicks.map(v => ({ value: v })); },
          afterFit: s => { s.width = W; s.paddingTop = 0; s.paddingBottom = 0; },
          grid: { display: false, drawTicks: false },
          border: { display: false },
          ticks: { padding: 3, autoSkip: false, color: '#444', font: tickFont, callback: v => String(v) },
          title: { display: true, text: 'y [m]', color: '#444', font: { family: FONT, size: 9 }, padding: 0 }
        }
      }
    },
    plugins: [labelPlugin(labels, lfs), framePlugin]
  });
}

makePanel('c1', { top0: 0, h: 365, left: 87.5, right: 1015.5, top: 9.5, bottom: 332, yTitleX: 54.5, xTitleY: 355 }, p1Lines, p1Labels, p1Colors, 1.1, 9);
makePanel('c2', { top0: 385, h: 370, left: 71.5, right: 1012.5, top: 394.5, bottom: 721, yTitleX: 39.5, xTitleY: 745 }, p2Lines, p2Labels, p2Colors, 1.5, 9);
makePanel('c3', { top0: 770, h: 370, left: 85, right: 1015.5, top: 779.5, bottom: 1102.5, yTitleX: 51.5, xTitleY: 1126 }, p3Lines, p3Labels, p3Colors, 1.3, 9);
makePanel('c4', { top0: 1155, h: 366, left: 76.5, right: 1014, top: 1165.5, bottom: 1491.5, yTitleX: 43.5, xTitleY: 1515 }, p4Lines, p4Labels, p4Colors, 1.8, 9.5);
</script>
</body>
</html>
